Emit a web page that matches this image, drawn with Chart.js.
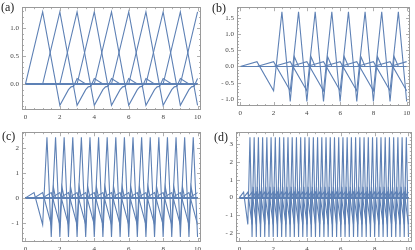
<!DOCTYPE html>
<html><head><meta charset="utf-8">
<script src="https://cdn.jsdelivr.net/npm/chart.js@4/dist/chart.umd.min.js"></script>
<style>
html,body{margin:0;padding:0;background:#fff;width:415px;height:250px;overflow:hidden}
canvas{position:absolute}
.lab{position:absolute;font-family:"Liberation Serif","DejaVu Serif",serif;font-size:12px;color:#222;line-height:1}
</style></head><body>
<canvas id="ca" width="207" height="125" style="left:0;top:0"></canvas>
<canvas id="cb" width="208" height="125" style="left:207px;top:0"></canvas>
<canvas id="cc" width="207" height="125" style="left:0;top:125px"></canvas>
<canvas id="cd" width="208" height="125" style="left:207px;top:125px"></canvas>
<div class="lab" style="left:1px;top:1px">(a)</div>
<div class="lab" style="left:212px;top:2px">(b)</div>
<div class="lab" style="left:2px;top:130px">(c)</div>
<div class="lab" style="left:214px;top:131px">(d)</div>
<script>
// ---- Panel (a): basis shape (offsets from start, values) and start positions
const shapeA_dx = [0, 1, 2, 2.5, 2.65, 2.8, 3, 3.5];
const shapeA_y  = [0, 1.29, -0.38, -0.1, -0.05, -0.04, 0.1, 0];
const startsA   = [0, 1, 2, 3, 4, 5, 6, 7, 8, 9];
const yTicksA   = [0, 0.5, 1];
const yLabelsA  = ["0.0", "0.5", "1.0"];

// ---- Panel (b): shape relative to its peak, and peak positions
const shapeB_dx = [-2.5, -1.5, -0.5, 0, 0.5, 0.75, 1];
const shapeB_y  = [0, 0.15, -0.75, 1.69, -1.08, 0.3, 0];
const peaksB    = [2.5, 3.5, 4.5, 5.5, 6.5, 7.5, 8.5, 9.5, 10.5, 11.5];
const yTicksB   = [-1, -0.5, 0, 0.5, 1, 1.5];
const yLabelsB  = ["- 1.0", "- 0.5", "0.0", "0.5", "1.0", "1.5"];

// ---- Panel (c)
const shapeC_dx = [-1.25, -0.75, -0.25, 0, 0.25, 0.375, 0.5];
const shapeC_y  = [0, 0.21, -1.07, 2.42, -1.56, 0.43, 0];
const peaksC    = [1.25, 1.75, 2.25, 2.75, 3.25, 3.75, 4.25, 4.75, 5.25, 5.75,
                   6.25, 6.75, 7.25, 7.75, 8.25, 8.75, 9.25, 9.75, 10.25, 10.75];
const yTicksC   = [-1, 0, 1, 2];
const yLabelsC  = ["- 1", "0", "1", "2"];

// ---- Panel (d)
const shapeD_dx = [-0.625, -0.375, -0.125, 0, 0.125, 0.1875, 0.25];
const shapeD_y  = [0, 0.3, -1.5, 3.37, -2.2, 0.6, 0];
const peaksD    = [0.625, 0.875, 1.125, 1.375, 1.625, 1.875, 2.125, 2.375, 2.625, 2.875,
                   3.125, 3.375, 3.625, 3.875, 4.125, 4.375, 4.625, 4.875, 5.125, 5.375,
                   5.625, 5.875, 6.125, 6.375, 6.625, 6.875, 7.125, 7.375, 7.625, 7.875,
                   8.125, 8.375, 8.625, 8.875, 9.125, 9.375, 9.625, 9.875, 10.125, 10.375];
const yTicksD   = [-2, -1, 0, 1, 2, 3];
const yLabelsD  = ["- 2", "- 1", "0", "1", "2", "3"];

const xTicks  = [0, 2, 4, 6, 8, 10];
const xLabels = ["0", "2", "4", "6", "8", "10"];

const LINE = "#5E81B5";
const FRAME = "#9a9a9a";
const FONT = {family: "'Liberation Serif', serif", size: 7};

function buildSets(dx, ys, positions) {
  return positions.map(p => {
    let pts = [];
    dx.forEach((d, i) => { const x = p + d; if (x >= 0 && x <= 10) pts.push({x: x, y: ys[i]}); });
    if (!pts.length) return null;
    if (pts[0].x > 0) pts.unshift({x: 0, y: 0});
    if (pts[pts.length - 1].x < 10) pts.push({x: 10, y: 0});
    return {data: pts, borderColor: LINE, borderWidth: 1.1, pointRadius: 0, tension: 0, fill: false};
  }).filter(Boolean);
}

const framePlugin = {
  id: "frame",
  afterDraw(chart, args, o) {
    const {ctx, chartArea: a, scales} = chart;
    ctx.save();
    ctx.strokeStyle = FRAME; ctx.lineWidth = 1;
    ctx.strokeRect(Math.round(a.left) + 0.5, Math.round(a.top) + 0.5,
                   Math.round(a.right - a.left) - 1, Math.round(a.bottom - a.top) - 1);
    ctx.lineWidth = 0.8;
    const xs = scales.x, ys = scales.y;
    ctx.beginPath();
    for (let v = o.xMinorStart; v <= 10.2001; v += o.xMinor) {
      const px = Math.round(xs.getPixelForValue(v)) + 0.5;
      const major = o.xMajor.some(m => Math.abs(m - v) < 1e-6);
      const L = major ? 4 : 2;
      ctx.moveTo(px, a.bottom); ctx.lineTo(px, a.bottom - L);
      ctx.moveTo(px, a.top); ctx.lineTo(px, a.top + L);
    }
    for (let v = o.yMinorStart; v <= ys.max + 1e-6; v += o.yMinor) {
      if (v < ys.min) continue;
      const py = Math.round(ys.getPixelForValue(v)) + 0.5;
      const major = o.yMajor.some(m => Math.abs(m - v) < 1e-6);
      const L = major ? 4 : 2;
      ctx.moveTo(a.left, py); ctx.lineTo(a.left + L, py);
      ctx.moveTo(a.right, py); ctx.lineTo(a.right - L, py);
    }
    ctx.stroke();
    ctx.restore();
  }
};

function makeChart(id, sets, cfg) {
  new Chart(document.getElementById(id), {
    type: "line",
    data: {datasets: sets},
    options: {
      responsive: false, animation: false, devicePixelRatio: 1,
      layout: {padding: cfg.pad},
      plugins: {legend: {display: false}, tooltip: {enabled: false},
        frame: {xMajor: xTicks, xMinor: 0.5, xMinorStart: 0,
                yMajor: cfg.yTicks, yMinor: cfg.yMinor, yMinorStart: cfg.yMinorStart}},
      scales: {
        x: {type: "linear", min: -0.2, max: 10.2,
            afterBuildTicks: s => { s.ticks = xTicks.map(v => ({value: v})); },
            afterFit: s => { s.height = cfg.xH; },
            grid: {display: false, drawTicks: false}, border: {display: false},
            ticks: {autoSkip: false, maxRotation: 0, padding: 3, font: FONT, color: "#444",
                    callback: (v) => xLabels[xTicks.indexOf(v)]}},
        y: {type: "linear", min: cfg.ymin, max: cfg.ymax,
            afterBuildTicks: s => { s.ticks = cfg.yTicks.map(v => ({value: v})); },
            afterFit: s => { s.width = cfg.yW; },
            grid: {display: false, drawTicks: false}, border: {display: false},
            ticks: {autoSkip: false, padding: 3, font: FONT, color: "#444",
                    callback: (v) => cfg.yLabels[cfg.yTicks.indexOf(v)]}}
      }
    },
    plugins: [framePlugin]
  });
}

makeChart("ca", buildSets(shapeA_dx, shapeA_y, startsA),
  {pad: {top: 1, right: 6, left: 0, bottom: 0}, xH: 15, yW: 22, ymin: -0.464, ymax: 1.374,
   yTicks: yTicksA, yLabels: yLabelsA, yMinor: 0.1, yMinorStart: -0.4});
makeChart("cb", buildSets(shapeB_dx, shapeB_y, peaksB),
  {pad: {top: 1, right: 5, left: 0, bottom: 0}, xH: 19, yW: 30, ymin: -1.22, ymax: 1.83,
   yTicks: yTicksB, yLabels: yLabelsB, yMinor: 0.1, yMinorStart: -1.2});
makeChart("cc", buildSets(shapeC_dx, shapeC_y, peaksC),
  {pad: {top: 3, right: 6, left: 0, bottom: 0}, xH: 8, yW: 22, ymin: -1.76, ymax: 2.62,
   yTicks: yTicksC, yLabels: yLabelsC, yMinor: 0.2, yMinorStart: -1.6});
makeChart("cd", buildSets(shapeD_dx, shapeD_y, peaksD),
  {pad: {top: 3, right: 2, left: 0, bottom: 0}, xH: 8, yW: 29, ymin: -2.48, ymax: 3.65,
   yTicks: yTicksD, yLabels: yLabelsD, yMinor: 0.2, yMinorStart: -2.4});
</script>
</body></html>
